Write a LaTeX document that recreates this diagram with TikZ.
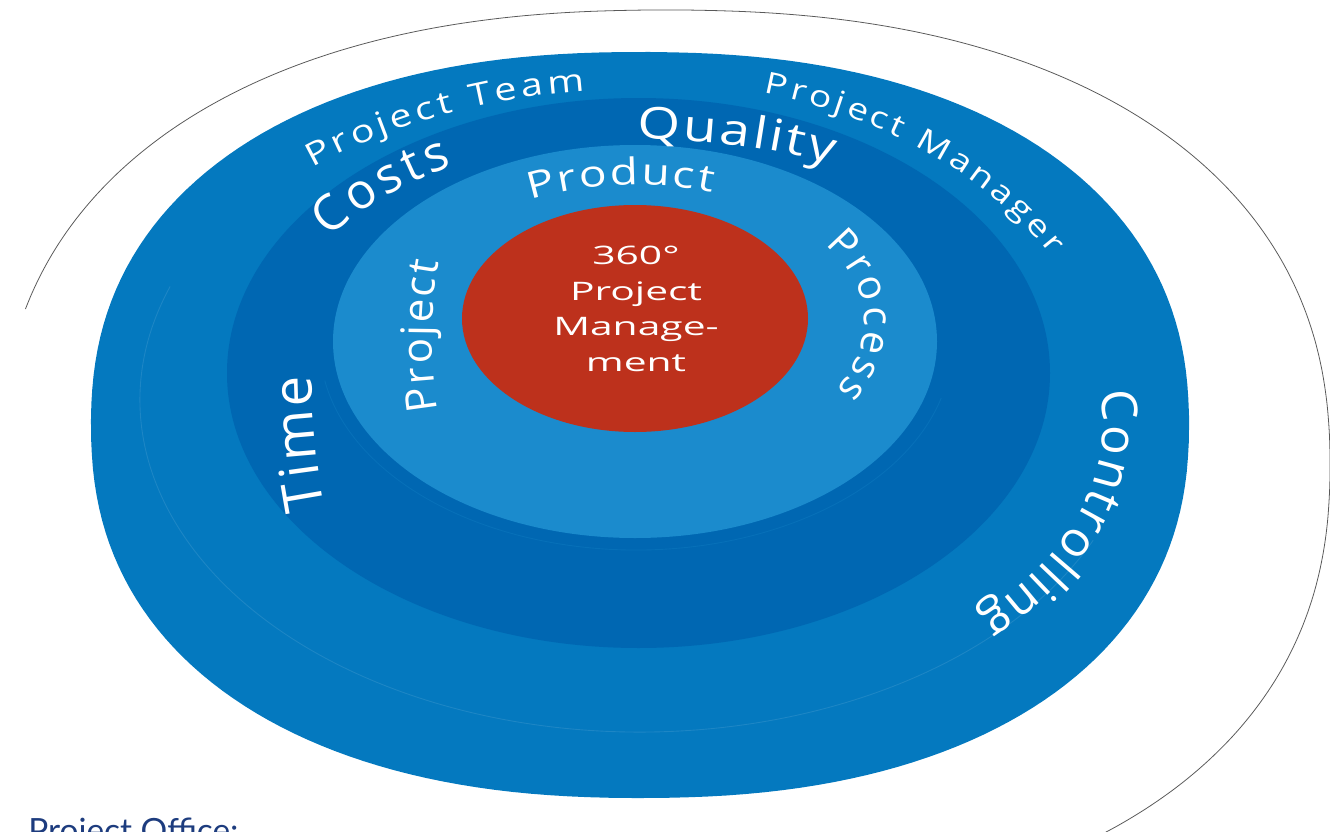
\documentclass[tikz,border=0pt]{standalone}
\usepackage{fontspec}
\setmainfont{Open Sans}
\newfontfamily\ringfont[FakeStretch=1.4]{Open Sans}
\newfontfamily\midfont[FakeStretch=1.25]{Open Sans}
\newfontfamily\plainfont{Open Sans}
\newfontfamily\corefont[FakeStretch=1.6]{Open Sans}
\newfontfamily\officefont{Lato}
\usepackage{tikz}
\usetikzlibrary{calc,decorations.text}

\definecolor{outerblue}{HTML}{0479BF}
\definecolor{midblue}{HTML}{0067B2}
\definecolor{innerblue}{HTML}{1B8BCD}
\definecolor{corered}{HTML}{BD311C}
\definecolor{officeblue}{HTML}{1D3C7E}

\tikzset{
  ringlabel/.style={decorate, decoration={text along path, text align={fit to path}, text color=white}},
  faintline/.style={line width=0.5pt, opacity=0.25}
}

\begin{document}
\begin{tikzpicture}[x=0.02cm, y=-0.02cm]  % one unit = one pixel of the reference, y pointing down
    \useasboundingbox (0,0) rectangle (1330,832);
    \clip (0,0) rectangle (1330,832);

    % Centres of the rings
    \coordinate (O) at (640,425);    % outer ring
    \coordinate (D) at (637,372);    % dark ring
    \coordinate (L) at (637,322);    % light ring

    % Thin outline behind the disc (rounded ellipse, open at the lower left)
    \draw[black!65, line width=0.45pt] plot[smooth, domain=197:412, samples=120, variable=\t]
        ({665+665*cos(\t)*(abs(cos(\t))+0.001)^(-0.13)}, {465+455*sin(\t)*(abs(sin(\t))+0.001)^(-0.13)});

    % The disc, from the outside in
    \fill[outerblue] plot[domain=0:359, samples=200, variable=\t]
        ({640+549*cos(\t)*(abs(cos(\t))+0.001)^(-0.12)}, {425+373*sin(\t)*(abs(sin(\t))+0.001)^(-0.12)}) -- cycle;
    \draw[faintline, white!40!outerblue] (640,400) ++({500*cos(25)},{332*sin(25)})
        arc[start angle=25, end angle=200, x radius=500, y radius=332];
    \fill[midblue] (638.5,373) ellipse [x radius=411.5, y radius=275];
    \draw[faintline, innerblue] (636,345) ++({316*cos(15)},{205*sin(15)})
        arc[start angle=15, end angle=170, x radius=316, y radius=205];
    \fill[innerblue] (635,341.5) ellipse [x radius=302, y radius=196.5];
    \fill[corered] (635,318.5) ellipse [x radius=173, y radius=113.5];

    % Outer ring labels
    \path[ringlabel, decoration={text={|\midfont\fontsize{18}{18}\selectfont|Project Team}}]
        ($(O)+({510*cos(230)},{336*sin(230)})$) arc[start angle=230, end angle=263.8, x radius=510, y radius=336];
    \path[ringlabel, decoration={text={|\midfont\fontsize{17}{17}\selectfont|Project Manager}}]
        ($(O)+({472*cos(285.2)},{344*sin(285.2)})$) arc[start angle=285.2, end angle=330.5, x radius=472, y radius=344];
    \path[ringlabel, decoration={text={|\plainfont\fontsize{28}{28}\selectfont|Controlling}}]
        ($(O)+({463*cos(353.2)},{280*sin(353.2)})$) arc[start angle=353.2, end angle=403, x radius=463, y radius=280];

    % Dark ring labels
    \path[ringlabel, decoration={text={|\plainfont\fontsize{28}{28}\selectfont|Costs}}]
        ($(D)+({374*cos(214.5)},{237*sin(214.5)})$) arc[start angle=214.5, end angle=240.5, x radius=374, y radius=237];
    \path[ringlabel, decoration={text={|\midfont\fontsize{25}{25}\selectfont|Quality}}]
        ($(D)+({430*cos(270)},{233*sin(270)})$) arc[start angle=270, end angle=297, x radius=430, y radius=233];
    \path[ringlabel, decoration={text={|\plainfont\fontsize{31}{31}\selectfont|Time}}]
        ($(D)+({325*cos(163.7)},{485*sin(163.7)})$) arc[start angle=163.7, end angle=179.5, x radius=325, y radius=485];

    % Light ring labels
    \path[ringlabel, decoration={text={|\midfont\fontsize{21}{21}\selectfont|Product}}]
        ($(L)+({233*cos(242.7)},{137.3*sin(242.7)})$) arc[start angle=242.7, end angle=288.8, x radius=233, y radius=137.3];
    \path[ringlabel, decoration={text={|\plainfont\fontsize{24}{24}\selectfont|Project}}]
        ($(L)+({205*cos(166.1)},{16+300*sin(166.1)})$) arc[start angle=166.1, end angle=194.7, x radius=205, y radius=300];
    \path[ringlabel, decoration={text={|\plainfont\fontsize{23}{23}\selectfont|Process}}]
        ($(L)+({227.5*cos(326)},{138.3*sin(326)})$) arc[start angle=326, end angle=389, x radius=227.5, y radius=138.3];

    % Centre and caption
    \node[text=white, align=center, font=\corefont\fontsize{14.5}{20.2}\selectfont] (core) at (636,309)
        {360°\\Project\\Manage-\\ment};
    \node[text=officeblue, anchor=base west, inner sep=0pt, font=\officefont\fontsize{19}{19}\selectfont] (office) at (28,842)
        {Project Office:};
\end{tikzpicture}
\end{document}
